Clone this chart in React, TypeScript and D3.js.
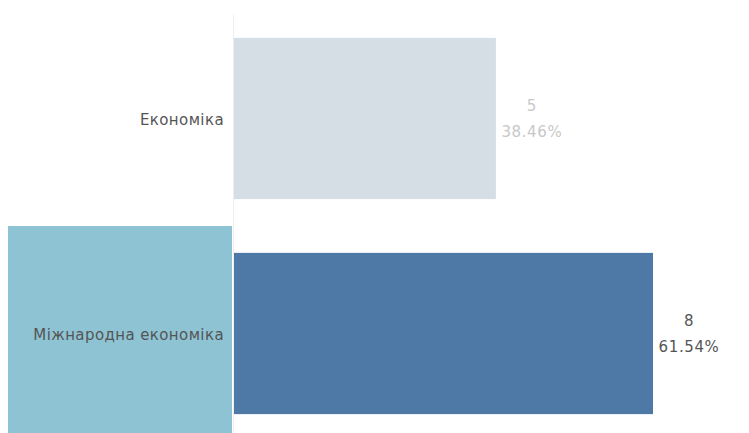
import React from "react";
import * as d3 from "d3";

const categories = ["Економіка", "Міжнародна економіка"];
const counts = [5, 8];
const percents = ["38.46%", "61.54%"];
const barColors = ["#d5dde5", "#4e79a7"];
const valueLabelColors = ["#c8c8c8", "#555555"];
const highlighted = "Міжнародна економіка";

const width = 749;
const height = 433;

export default function App() {
  const rows = d3.scaleBand<string>().domain(categories).range([11, 441]).padding(0);
  const bars = d3
    .scaleBand<string>()
    .domain(categories)
    .range([11, 441])
    .paddingInner(0.25)
    .paddingOuter(0.125);
  const x = d3.scaleLinear().domain([0, 8]).range([234, 653]);

  return (
    <div style={{ position: "absolute", left: 0, top: 0 }}>
      <svg width={width} height={height} style={{ display: "block" }} fontFamily="'DejaVu Sans', sans-serif">
        <rect width={width} height={height} fill="#ffffff" />
        {categories.map((c) =>
          c === highlighted ? (
            <rect key={"h" + c} x={8} y={rows(c)} width={224} height={rows.bandwidth()} fill="#8dc3d3" />
          ) : null
        )}
        <line x1={233.5} x2={233.5} y1={15} y2={height} stroke="#eeeeee" strokeWidth={1} />
        {categories.map((c, i) => (
          <g key={c}>
            <rect
              x={x(0)}
              y={bars(c)}
              width={x(counts[i]) - x(0)}
              height={bars.bandwidth()}
              fill={barColors[i]}
            />
            <text
              x={224}
              y={rows(c)! + rows.bandwidth() / 2 + 1}
              textAnchor="end"
              dominantBaseline="central"
              fontSize={15}
              letterSpacing={0.4}
              fill="#555555"
            >
              {c}
            </text>
            <text
              x={x(counts[i]) + 36}
              y={bars(c)! + bars.bandwidth() / 2 - 13}
              textAnchor="middle"
              dominantBaseline="central"
              fontSize={15}
              letterSpacing={0.6}
              fill={valueLabelColors[i]}
            >
              {counts[i]}
            </text>
            <text
              x={x(counts[i]) + 36}
              y={bars(c)! + bars.bandwidth() / 2 + 13}
              textAnchor="middle"
              dominantBaseline="central"
              fontSize={15}
              letterSpacing={0.6}
              fill={valueLabelColors[i]}
            >
              {percents[i]}
            </text>
          </g>
        ))}
      </svg>
    </div>
  );
}
